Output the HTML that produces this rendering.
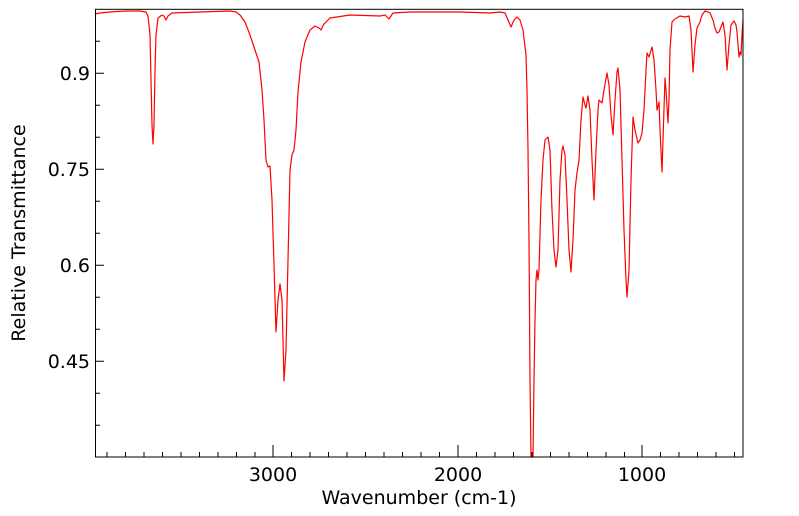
<!DOCTYPE html>
<html><head><style>body{margin:0;background:#fff}svg{display:block}</style></head><body>
<svg width="799" height="516" xmlns="http://www.w3.org/2000/svg" font-family="DejaVu Sans, Liberation Sans, sans-serif">
<rect width="799" height="516" fill="#fff"/>
<g stroke="#000" stroke-width="1">
<path d="M95,41.3h5M95,73.3h9M95,105.3h5M95,137.3h5M95,169.3h9M95,201.3h5M95,233.3h5M95,265.3h9M95,297.3h5M95,329.3h5M95,361.3h9M95,393.3h5M95,425.3h5"/>
<path d="M107,457v-5M125.5,457v-5M144,457v-5M162.5,457v-5M181,457v-5M199.5,457v-5M218,457v-5M236.5,457v-5M255,457v-5M273,457v-12M291.5,457v-5M310,457v-5M328.5,457v-5M347,457v-5M365.5,457v-5M384,457v-5M402.5,457v-5M421,457v-5M439.5,457v-5M458,457v-12M476.5,457v-5M495,457v-5M513.5,457v-5M532,457v-5M550.5,457v-5M569,457v-5M587.5,457v-5M606,457v-5M624.5,457v-5M642,457v-12M660.5,457v-5M679,457v-5M697.5,457v-5M716,457v-5M734.5,457v-5"/>
</g>
<polyline fill="none" stroke="#f00" stroke-width="1.2" stroke-linejoin="round" points="95,14 100,13 110,12 125,11 140,11 146,12 148,16 150,35 151,80 152,125 153,144 154,125 155,70 156,35 158,18 162,15 164,16 166,20 168,16 172,13 200,12 230,11 236,12 240,15 245,22 250,35 255,50 259,62 262,90 264,120 266,160 268,167 270,166 272,200 274,265 276,332 278,300 280,284 282,300 284,381 286,350 288,260 290,170 292,155 294,150 296,130 298,92 301,62 305,42 310,30 315,26 319,28 321,30 324,24 330,18 350,15 380,16 385,15 389,19 393,13 410,12 430,12 460,12 490,13 500,12 505,13 508,20 511,27 514,20 517,17 520,20 523,30 526,55 527,90 528,150 529,240 530,380 531,457 533,457 534,380 535,320 536,280 537,270 538,280 539,270 541,200 543,160 545,140 548,137 550,150 552,210 554,250 556,267 558,250 560,180 562,150 563,146 565,155 567,200 569,250 571,272 573,240 575,190 577,173 579,160 581,120 583,97 585,105 586,108 588,96 590,110 592,160 594,200 596,150 598,110 599,100 602,103 604,90 607,73 609,85 611,115 613,135 615,100 617,72 618,68 620,90 622,160 624,230 626,280 627,297 629,270 631,180 633,117 635,130 638,143 640,140 642,133 644,110 646,70 647,53 649,57 652,47 654,60 656,90 657,110 659,102 660,130 662,172 663,140 665,78 666,90 668,123 669,100 670,50 672,22 675,19 680,16 685,17 689,16 691,30 693,72 695,45 697,28 700,22 702,15 705,11 708,12 710,13 713,20 715,28 717,33 719,32 721,27 723,22 725,35 727,70 729,45 731,25 734,21 736,25 737,32 739,57 740,52 741,55 742,35 743,20"/>
<rect x="95.5" y="9.3" width="647.5" height="447.7" fill="none" stroke="#000" stroke-width="1"/>
<g font-size="19" fill="#000">
<text x="90" y="80" text-anchor="end">0.9</text>
<text x="90" y="176" text-anchor="end">0.75</text>
<text x="90" y="272" text-anchor="end">0.6</text>
<text x="90" y="368" text-anchor="end">0.45</text>
<text x="273" y="481" text-anchor="middle">3000</text>
<text x="458" y="481" text-anchor="middle">2000</text>
<text x="642" y="481" text-anchor="middle">1000</text>
<text x="419" y="504" text-anchor="middle">Wavenumber (cm-1)</text>
<text transform="translate(25,233) rotate(-90)" text-anchor="middle">Relative Transmittance</text>
</g>
</svg>
</body></html>
